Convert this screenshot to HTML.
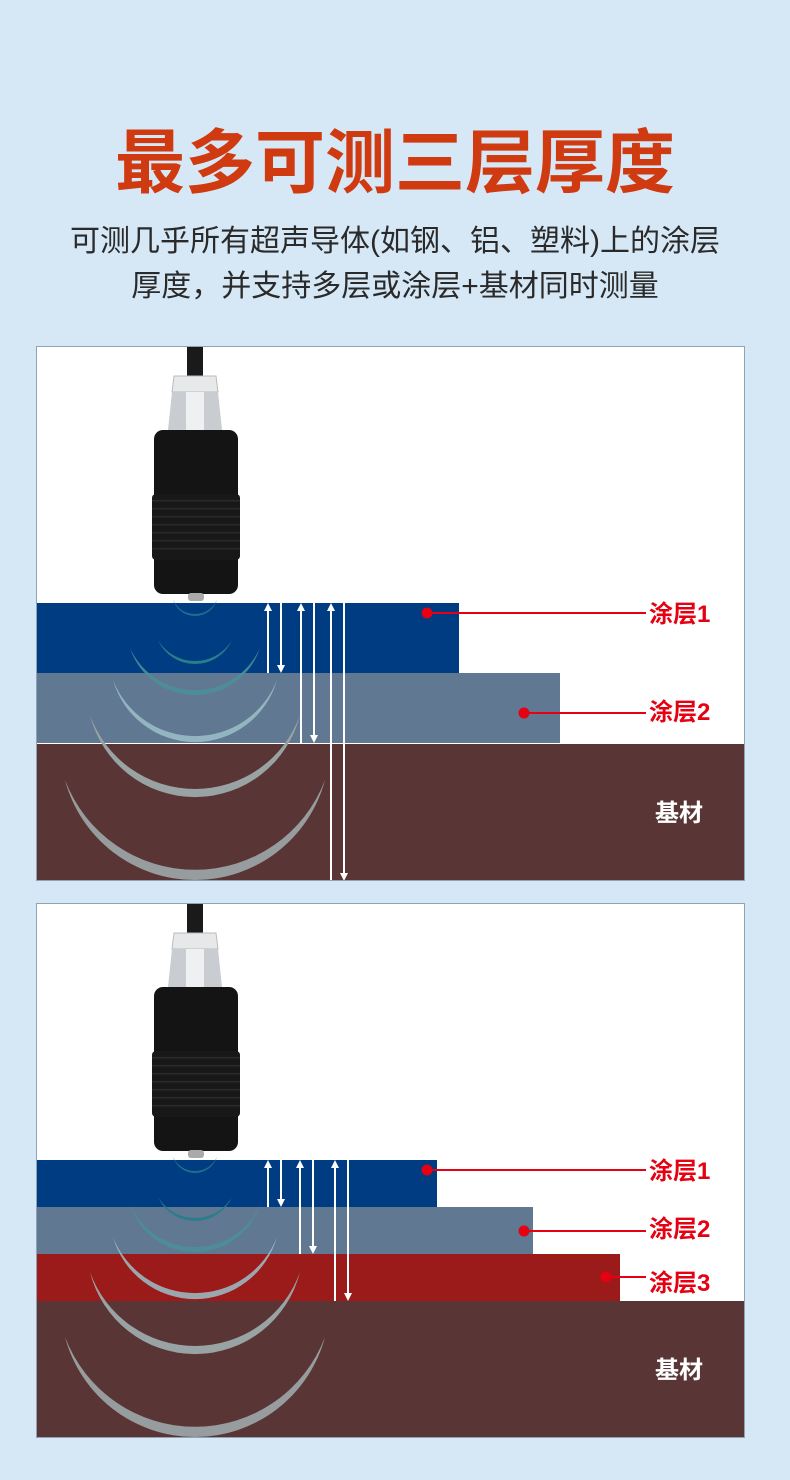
<!DOCTYPE html>
<html><head><meta charset="utf-8"><style>
html,body{margin:0;padding:0;background:#d6e8f6;}
svg{display:block;}
text{font-family:"Liberation Sans","Noto Sans CJK SC",sans-serif;}
</style></head><body>
<svg width="790" height="1480" viewBox="0 0 790 1480" xmlns="http://www.w3.org/2000/svg">
<defs>
<marker id="ah" markerWidth="8" markerHeight="8" refX="4" refY="4" orient="auto" markerUnits="userSpaceOnUse"><path d="M0,0 L8,4 L0,8 z" fill="#fff"/></marker>
<clipPath id="c1"><rect x="37" y="347" width="707" height="533"/></clipPath>
<clipPath id="c2"><rect x="37" y="904" width="707" height="533"/></clipPath>
<g id="probe">
<rect x="187" y="346" width="16" height="30" fill="#1a1a1a"/>
<path d="M174,376 h42 l2,16 h-46 z" fill="#e6e8ea" stroke="#bbb" stroke-width="1"/>
<path d="M172,392 h46 l4,38 h-54 z" fill="#c9ccd0"/>
<rect x="186" y="392" width="18" height="38" fill="#eef0f2"/>
<rect x="154" y="430" width="84" height="164" rx="9" fill="#141414"/>
<rect x="152" y="494" width="88" height="66" rx="4" fill="#181818"/>
<g fill="#2a2a2a">
<rect x="152" y="500" width="88" height="1.5"/><rect x="152" y="508" width="88" height="1.5"/><rect x="152" y="516" width="88" height="1.5"/><rect x="152" y="524" width="88" height="1.5"/><rect x="152" y="532" width="88" height="1.5"/><rect x="152" y="540" width="88" height="1.5"/><rect x="152" y="548" width="88" height="1.5"/>
</g>
<rect x="188" y="593" width="16" height="8" rx="3" fill="#aaa"/>
</g>
<g id="arcs">
<path d="M173,600 A23.1,23.1 0 0 0 217,600 A24.3,24.3 0 0 1 173,600z" fill="#1f6e8c"/>
<path d="M158,640 A40.5,40.5 0 0 0 232,640 A43.1,43.1 0 0 1 158,640z" fill="#2a7d8a"/>
<path d="M130,648 A68.4,68.4 0 0 0 260,648 A71.3,71.3 0 0 1 130,648z" fill="#4d8e98" opacity=".9"/>
<path d="M113,680 A85.2,85.2 0 0 0 277,680 A88,88 0 0 1 113,680z" fill="#9cc0c8" opacity=".85"/>
<path d="M90,715 A108.2,108.2 0 0 0 300,715 A111.5,111.5 0 0 1 90,715z" fill="#9aa3a4"/>
<path d="M65,780 A134.5,134.5 0 0 0 325,780 A139,139 0 0 1 65,780z" fill="#979d9e"/>
</g>
</defs>

<text x="395" y="187" text-anchor="middle" font-size="70" font-weight="bold" fill="#d03a10">最多可测三层厚度</text>
<text x="395" y="251" text-anchor="middle" font-size="30" fill="#2a2a2a">可测几乎所有超声导体(如钢、铝、塑料)上的涂层</text>
<text x="395" y="296" text-anchor="middle" font-size="30" fill="#2a2a2a">厚度，并支持多层或涂层+基材同时测量</text>

<!-- Panel 1 -->
<rect x="36.5" y="346.5" width="708" height="534" fill="#fff" stroke="#8ea2b8"/>
<g clip-path="url(#c1)">
<rect x="37" y="603" width="422" height="70" fill="#003c82"/>
<rect x="37" y="673" width="523" height="70" fill="#607891"/>
<rect x="37" y="744" width="708" height="137" fill="#5a3535"/>
<line x1="37" y1="743.5" x2="745" y2="743.5" stroke="#fff"/>
<use href="#arcs"/>
<use href="#probe"/>
<g stroke="#fff" stroke-width="2">
<line x1="268" y1="673" x2="268" y2="607" marker-end="url(#ah)"/>
<line x1="281" y1="603" x2="281" y2="669" marker-end="url(#ah)"/>
<line x1="301" y1="743" x2="301" y2="607" marker-end="url(#ah)"/>
<line x1="314" y1="603" x2="314" y2="739" marker-end="url(#ah)"/>
<line x1="331" y1="881" x2="331" y2="607" marker-end="url(#ah)"/>
<line x1="344" y1="603" x2="344" y2="877" marker-end="url(#ah)"/>
</g>
</g>
<g fill="#e50012" stroke="#e50012">
<circle cx="427" cy="613" r="5"/><line x1="427" y1="613" x2="646" y2="613" stroke-width="2"/>
<circle cx="524" cy="713" r="5"/><line x1="524" y1="713" x2="646" y2="713" stroke-width="2"/>
</g>
<g font-size="24" font-weight="bold" fill="#e50012">
<text x="649" y="622">涂层1</text>
<text x="649" y="720">涂层2</text>
</g>
<text x="655" y="821" font-size="24" font-weight="bold" fill="#fff">基材</text>

<!-- Panel 2 -->
<rect x="36.5" y="903.5" width="708" height="534" fill="#fff" stroke="#8ea2b8"/>
<g clip-path="url(#c2)">
<rect x="37" y="1160" width="400" height="47" fill="#003c82"/>
<rect x="37" y="1207" width="496" height="47" fill="#607891"/>
<rect x="37" y="1254" width="583" height="47" fill="#9b1a1a"/>
<rect x="37" y="1301" width="708" height="137" fill="#5a3535"/>
<use href="#arcs" y="557"/>
<use href="#probe" y="557"/>
<g stroke="#fff" stroke-width="2">
<line x1="268" y1="1207" x2="268" y2="1164" marker-end="url(#ah)"/>
<line x1="281" y1="1160" x2="281" y2="1203" marker-end="url(#ah)"/>
<line x1="300" y1="1254" x2="300" y2="1164" marker-end="url(#ah)"/>
<line x1="313" y1="1160" x2="313" y2="1250" marker-end="url(#ah)"/>
<line x1="335" y1="1301" x2="335" y2="1164" marker-end="url(#ah)"/>
<line x1="348" y1="1160" x2="348" y2="1297" marker-end="url(#ah)"/>
</g>
</g>
<g fill="#e50012" stroke="#e50012">
<circle cx="427" cy="1170" r="5"/><line x1="427" y1="1170" x2="646" y2="1170" stroke-width="2"/>
<circle cx="524" cy="1231" r="5"/><line x1="524" y1="1231" x2="646" y2="1231" stroke-width="2"/>
<circle cx="606" cy="1277" r="5"/><line x1="606" y1="1277" x2="646" y2="1277" stroke-width="2"/>
</g>
<g font-size="24" font-weight="bold" fill="#e50012">
<text x="649" y="1179">涂层1</text>
<text x="649" y="1237">涂层2</text>
<text x="649" y="1291">涂层3</text>
</g>
<text x="655" y="1378" font-size="24" font-weight="bold" fill="#fff">基材</text>
</svg>
</body></html>
